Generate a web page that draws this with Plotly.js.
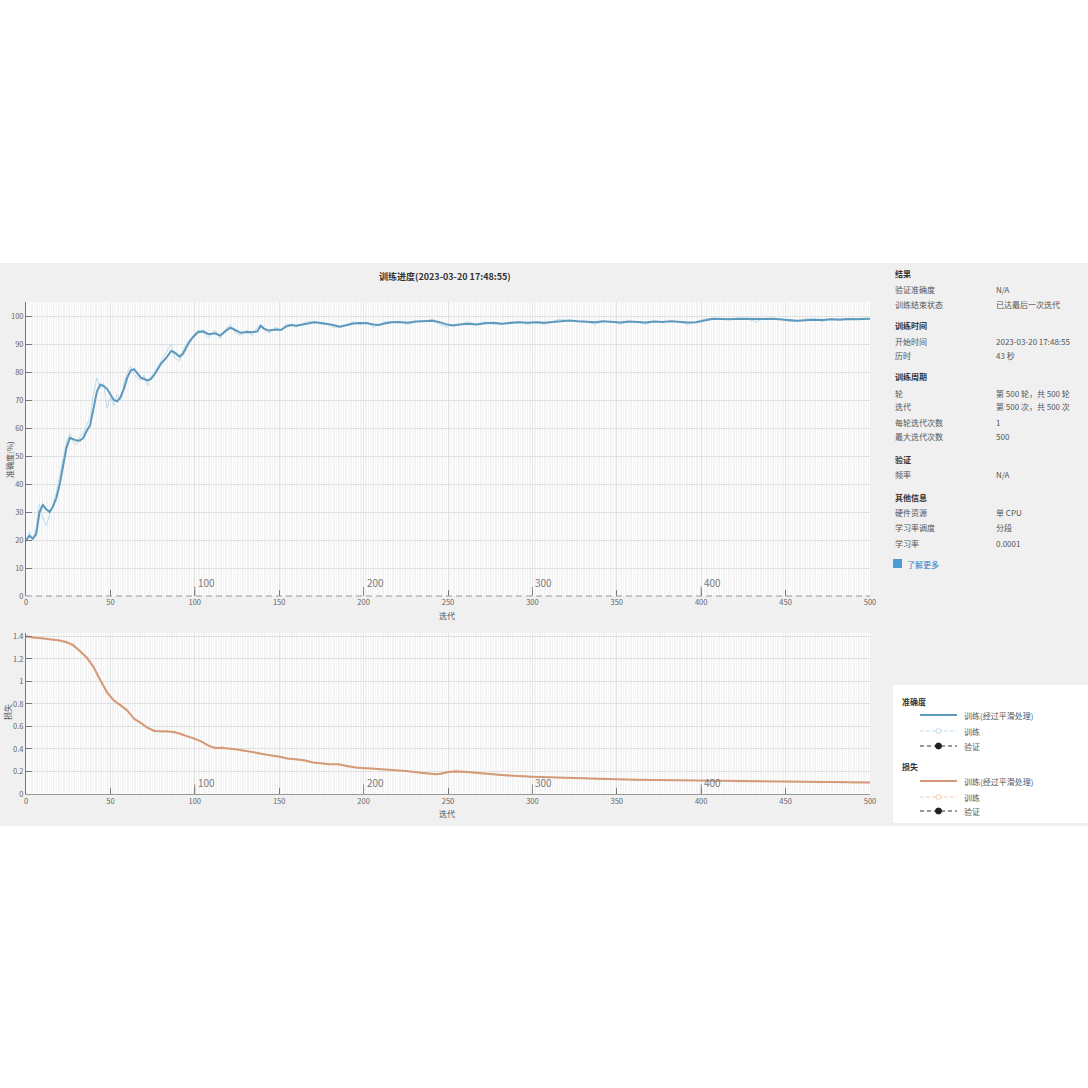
<!DOCTYPE html>
<html>
<head>
<meta charset="utf-8">
<script src="https://cdn.plot.ly/plotly-3.0.1.min.js"></script>
<style>html,body{margin:0;padding:0;background:#fff;}#chart{width:1088px;height:1088px;}</style>
</head>
<body>
<div id="chart"></div>
<script>
// ---------- data ----------
const accIter = [0,2,4,6,8,10,12,14,16,18,20,22,24,26,28,30,32,34,36,38,40,42,44,46,48,50,52,54,56,58,60,62,64,66,68,70,72,74,76,78,80,83,86,88,91,93,96,99,102,105,108,112,115,118,121,124,127,131,134,137,139,141,144,148,151,154,157,160,163,167,171,175,179,182,186,190,194,198,202,206,209,213,217,221,226,231,236,241,245,249,253,257,262,267,272,277,282,287,292,297,302,307,312,317,322,327,332,337,342,347,352,357,362,367,372,377,382,387,392,397,402,407,412,417,422,427,432,437,442,447,452,457,462,467,472,477,482,487,492,497,500];
const accSmooth = [20,21.5,20.5,22,30,32.5,31,30,32,35,40,46,53,56.5,56,55.5,55.5,56.5,59,61,67,73,75.5,75,74,72,70,69.5,71,74,78,80.5,81,79.5,78,77.5,77,77.5,79,81,83,85,87.5,87,85.5,86.5,90,92.5,94.3,94.5,93.5,93.8,93,94.5,95.8,95,94,94.3,94.2,94.5,96.5,95.5,94.8,95.2,95,96.2,96.8,96.5,96.8,97.3,97.8,97.5,97.2,96.8,96.2,96.8,97.3,97.5,97.4,97,96.8,97.4,97.8,97.9,97.6,98,98.1,98.3,97.8,97,96.6,97,97.2,97,97.4,97.6,97.2,97.4,97.8,97.6,97.8,97.6,97.9,98.3,98.4,98.1,98,97.8,98.1,97.9,97.7,98,97.9,97.7,98,97.9,98.1,97.9,97.7,97.8,98.5,99,98.9,98.8,99,98.9,98.8,98.9,99,98.8,98.5,98.3,98.5,98.7,98.6,98.8,98.7,98.9,98.8,98.9,99];
const accRaw = [19,23,20,24,33,28,25,29,33,37,43,49,55,58,55,54,57,58,61,64,72,78,74,76,67,71,68,72,70,76,80,82,79,78,77,79,75,78,80,82,84,87,90,85,84,88,91,93,95,94,92,95,92,95,97,94,93,95,93,96,97,95,94,96,95,97,97,96,97,98,98,97,97,96,96,97,98,97,98,96,97,98,98,98,97,98,98,99,97,96,97,97,98,97,98,97,97,98,98,97,98,97,98,99,98,98,98,97,98,98,97,98,98,97,98,98,98,98,97,98,99,99,99,99,99,99,98,99,99,99,98,98,99,99,98,99,99,99,99,99,99];

const lossIter = [0,5,10,14,19,24,28,32,36,40,44,48,52,56,60,64,68,72,76,80,84,88,92,96,100,104,108,112,116,120,125,130,135,140,145,150,155,160,165,170,175,180,185,190,195,200,205,210,215,220,225,230,235,240,243,246,250,255,260,265,270,275,280,285,290,295,300,310,320,330,340,350,360,370,380,390,400,410,420,430,440,450,460,470,480,490,500];
const lossSmooth = [1.40,1.39,1.385,1.375,1.365,1.35,1.32,1.27,1.21,1.13,1.01,0.905,0.83,0.79,0.74,0.67,0.63,0.59,0.56,0.56,0.555,0.55,0.53,0.515,0.49,0.465,0.43,0.41,0.41,0.405,0.395,0.385,0.37,0.355,0.345,0.33,0.315,0.31,0.30,0.28,0.27,0.265,0.265,0.25,0.235,0.23,0.225,0.225,0.22,0.21,0.205,0.195,0.19,0.18,0.175,0.18,0.195,0.20,0.198,0.19,0.182,0.177,0.172,0.165,0.16,0.157,0.153,0.148,0.142,0.138,0.135,0.13,0.126,0.124,0.122,0.12,0.12,0.118,0.115,0.113,0.112,0.11,0.109,0.107,0.106,0.105,0.103];
const lossRaw = [1.41,1.38,1.39,1.37,1.37,1.34,1.33,1.26,1.22,1.12,1.02,0.89,0.84,0.78,0.75,0.66,0.64,0.58,0.57,0.55,0.56,0.54,0.54,0.51,0.50,0.46,0.44,0.40,0.42,0.40,0.40,0.38,0.37,0.36,0.34,0.34,0.31,0.31,0.29,0.28,0.27,0.26,0.27,0.24,0.24,0.22,0.23,0.22,0.22,0.21,0.20,0.20,0.18,0.18,0.17,0.19,0.19,0.21,0.19,0.19,0.18,0.18,0.17,0.17,0.16,0.16,0.15,0.15,0.14,0.14,0.13,0.13,0.13,0.12,0.12,0.12,0.12,0.12,0.11,0.11,0.11,0.11,0.11,0.10,0.11,0.10,0.10];

const accTicks = [0,10,20,30,40,50,60,70,80,90,100];
const lossTicks = [0,0.2,0.4,0.6,0.8,1,1.2,1.4];
const iterTicks = [0,50,100,150,200,250,300,350,400,450,500];
const epochLabels = [100,200,300,400];

const titleText = '训练进度(2023-03-20 17:48:55)';
const accLabel = '准确度(%)';
const lossLabel = '损失';
const iterLabel = '迭代';

const infoRows = [
  ['结果','',true],
  ['验证准确度','N/A',false],
  ['训练结束状态','已达最后一次迭代',false],
  ['训练时间','',true],
  ['开始时间','2023-03-20 17:48:55',false],
  ['历时','43 秒',false],
  ['训练周期','',true],
  ['轮','第 500 轮，共 500 轮',false],
  ['迭代','第 500 次，共 500 次',false],
  ['每轮迭代次数','1',false],
  ['最大迭代次数','500',false],
  ['验证','',true],
  ['频率','N/A',false],
  ['其他信息','',true],
  ['硬件资源','单 CPU',false],
  ['学习率调度','分段',false],
  ['学习率','0.0001',false]
];
const infoY = [273,289,304,326,341,356,377,393,407,422,437,459,475,497,512,527,543];
const legendGroups = ['准确度','损失'];
const legendItems = ['训练(经过平滑处理)','训练','验证'];

// ---------- layout helpers ----------
const W = 1088, H = 1088;
const px = v => v / W;
const py = v => 1 - v / H;
const FONT = '"Noto Sans CJK SC", "Noto Sans", sans-serif';

const accBlue = '#5d98bd', accLight = '#bfdcec';
const lossOrange = '#d49a78', lossLight = '#f1cdb4';

const traces = [
  {x: accIter, y: accRaw, xaxis:'x', yaxis:'y', mode:'lines', line:{color:accLight, width:1}, hoverinfo:'skip'},
  {x: accIter, y: accSmooth, xaxis:'x', yaxis:'y', mode:'lines', line:{color:accBlue, width:2}, hoverinfo:'skip'},
  {x: lossIter, y: lossRaw, xaxis:'x2', yaxis:'y2', mode:'lines', line:{color:lossLight, width:1.2}, hoverinfo:'skip'},
  {x: lossIter, y: lossSmooth, xaxis:'x2', yaxis:'y2', mode:'lines', line:{color:lossOrange, width:2}, hoverinfo:'skip'}
];

const xCommon = {
  range:[0,500], tickvals: iterTicks, ticks:'inside', ticklen:6, tickcolor:'#777',
  showgrid:true, gridcolor:'#e3e3e3', gridwidth:1,
  minor:{dtick:1, showgrid:true, gridcolor:'#ebebeb', gridwidth:0.6},
  zeroline:false, tickfont:{family:FONT, size:7.5, color:'#666'}, fixedrange:true
};
const yCommon = {
  ticks:'inside', ticklen:6, tickcolor:'#777', showline:true, linecolor:'#777', linewidth:1,
  showgrid:true, gridcolor:'#e0e0e0', gridwidth:1, zeroline:false,
  tickfont:{family:FONT, size:7.5, color:'#666'}, fixedrange:true
};

const layout = {
  width:W, height:H, margin:{l:0,r:0,t:0,b:0},
  paper_bgcolor:'#f0f0f0', plot_bgcolor:'#ffffff', showlegend:false,
  xaxis: Object.assign({}, xCommon, {domain:[px(26), px(870)], anchor:'y', showline:false}),
  yaxis: Object.assign({}, yCommon, {domain:[py(596), py(302)], anchor:'x', range:[0,105], tickvals:accTicks}),
  xaxis2: Object.assign({}, xCommon, {domain:[px(26), px(870)], anchor:'y2', showline:true, linecolor:'#999', linewidth:1}),
  yaxis2: Object.assign({}, yCommon, {domain:[py(794), py(633)], anchor:'x2', range:[0,1.43], tickvals:lossTicks, tickformat:'~g'}),
  shapes: [],
  annotations: []
};

function txt(x, y, text, opts) {
  return Object.assign({xref:'paper', yref:'paper', x:px(x), y:py(y), text:text, showarrow:false,
    xanchor:'left', yanchor:'middle', font:{family:FONT, size:8, color:'#555'}}, opts || {});
}

// white outside strips and white legend box
layout.shapes.push({type:'rect', xref:'paper', yref:'paper', x0:0, x1:1, y0:py(263), y1:1, fillcolor:'#ffffff', line:{width:0}, layer:'below'});
layout.shapes.push({type:'rect', xref:'paper', yref:'paper', x0:0, x1:1, y0:0, y1:py(826), fillcolor:'#ffffff', line:{width:0}, layer:'below'});
layout.shapes.push({type:'rect', xref:'paper', yref:'paper', x0:px(893), x1:1, y0:py(823), y1:py(685), fillcolor:'#ffffff', line:{width:0}, layer:'below'});
// dashed epoch axis on accuracy plot
layout.shapes.push({type:'line', xref:'x domain', yref:'y domain', x0:0, x1:1, y0:0, y1:0, line:{color:'#9a9a9a', width:1.2, dash:'6px,4px'}});

// epoch labels
epochLabels.forEach(e => {
  layout.annotations.push({xref:'x', yref:'y', x:e, y:1.5, text:String(e), showarrow:false, xanchor:'left', yanchor:'bottom', xshift:1, font:{family:FONT, size:10, color:'#7a7a7a'}});
  layout.annotations.push({xref:'x2', yref:'y2', x:e, y:0.02, text:String(e), showarrow:false, xanchor:'left', yanchor:'bottom', xshift:1, font:{family:FONT, size:10, color:'#7a7a7a'}});
  layout.shapes.push({type:'line', xref:'x', yref:'y domain', x0:e, x1:e, y0:0, y1:0.032, line:{color:'#888', width:1}});
  layout.shapes.push({type:'line', xref:'x2', yref:'y2 domain', x0:e, x1:e, y0:0, y1:0.06, line:{color:'#888', width:1}});
});

// titles
layout.annotations.push(txt(445, 276, '<b>'+titleText+'</b>', {xanchor:'center', font:{family:FONT, size:9, color:'#333'}}));
layout.annotations.push(txt(9, 460, accLabel, {xanchor:'center', textangle:-90}));
layout.annotations.push(txt(7, 712, lossLabel, {xanchor:'center', textangle:-90}));
layout.annotations.push(txt(447, 615, iterLabel, {xanchor:'center'}));
layout.annotations.push(txt(447, 813, iterLabel, {xanchor:'center'}));

// right info panel
infoRows.forEach((r, i) => {
  layout.annotations.push(txt(893, infoY[i], r[2] ? '<b>'+r[0]+'</b>' : r[0], {font:{family:FONT, size:8, color: r[2] ? '#333' : '#555'}}));
  if (r[1]) layout.annotations.push(txt(994, infoY[i], r[1]));
});
layout.shapes.push({type:'rect', xref:'paper', yref:'paper', x0:px(893), x1:px(902), y0:py(568), y1:py(559), fillcolor:'#4a9bd6', line:{width:0}});
layout.annotations.push(txt(905, 564, '了解更多', {font:{family:FONT, size:8, color:'#2f7fc1'}}));

// legend box content
const legY = [[701,715,731,746],[766,781,797,811]];
const legCol = [[accBlue, accLight],[lossOrange, lossLight]];
legendGroups.forEach((g, gi) => {
  const ys = legY[gi];
  layout.annotations.push(txt(900, ys[0], '<b>'+g+'</b>', {font:{family:FONT, size:8, color:'#333'}}));
  legendItems.forEach((t, ii) => {
    const yv = ys[ii+1];
    const yy = py(yv);
    layout.annotations.push(txt(962, yv, t));
    if (ii === 0) {
      layout.shapes.push({type:'line', xref:'paper', yref:'paper', x0:px(920), x1:px(957), y0:yy, y1:yy, line:{color:legCol[gi][0], width:2}});
    } else if (ii === 1) {
      layout.shapes.push({type:'line', xref:'paper', yref:'paper', x0:px(920), x1:px(957), y0:yy, y1:yy, line:{color:legCol[gi][1], width:1, dash:'4px,2px'}});
      layout.shapes.push({type:'circle', xref:'paper', yref:'paper', x0:px(936), x1:px(941), y0:yy-2.5/H, y1:yy+2.5/H, fillcolor:'#ffffff', line:{color:legCol[gi][1], width:1}});
    } else {
      layout.shapes.push({type:'line', xref:'paper', yref:'paper', x0:px(920), x1:px(957), y0:yy, y1:yy, line:{color:'#333', width:1, dash:'4px,3px'}});
      layout.shapes.push({type:'circle', xref:'paper', yref:'paper', x0:px(935.5), x1:px(941.5), y0:yy-3/H, y1:yy+3/H, fillcolor:'#222', line:{color:'#222', width:1}});
    }
  });
});

Plotly.newPlot('chart', traces, layout, {staticPlot:true, displayModeBar:false});
</script>
</body>
</html>
